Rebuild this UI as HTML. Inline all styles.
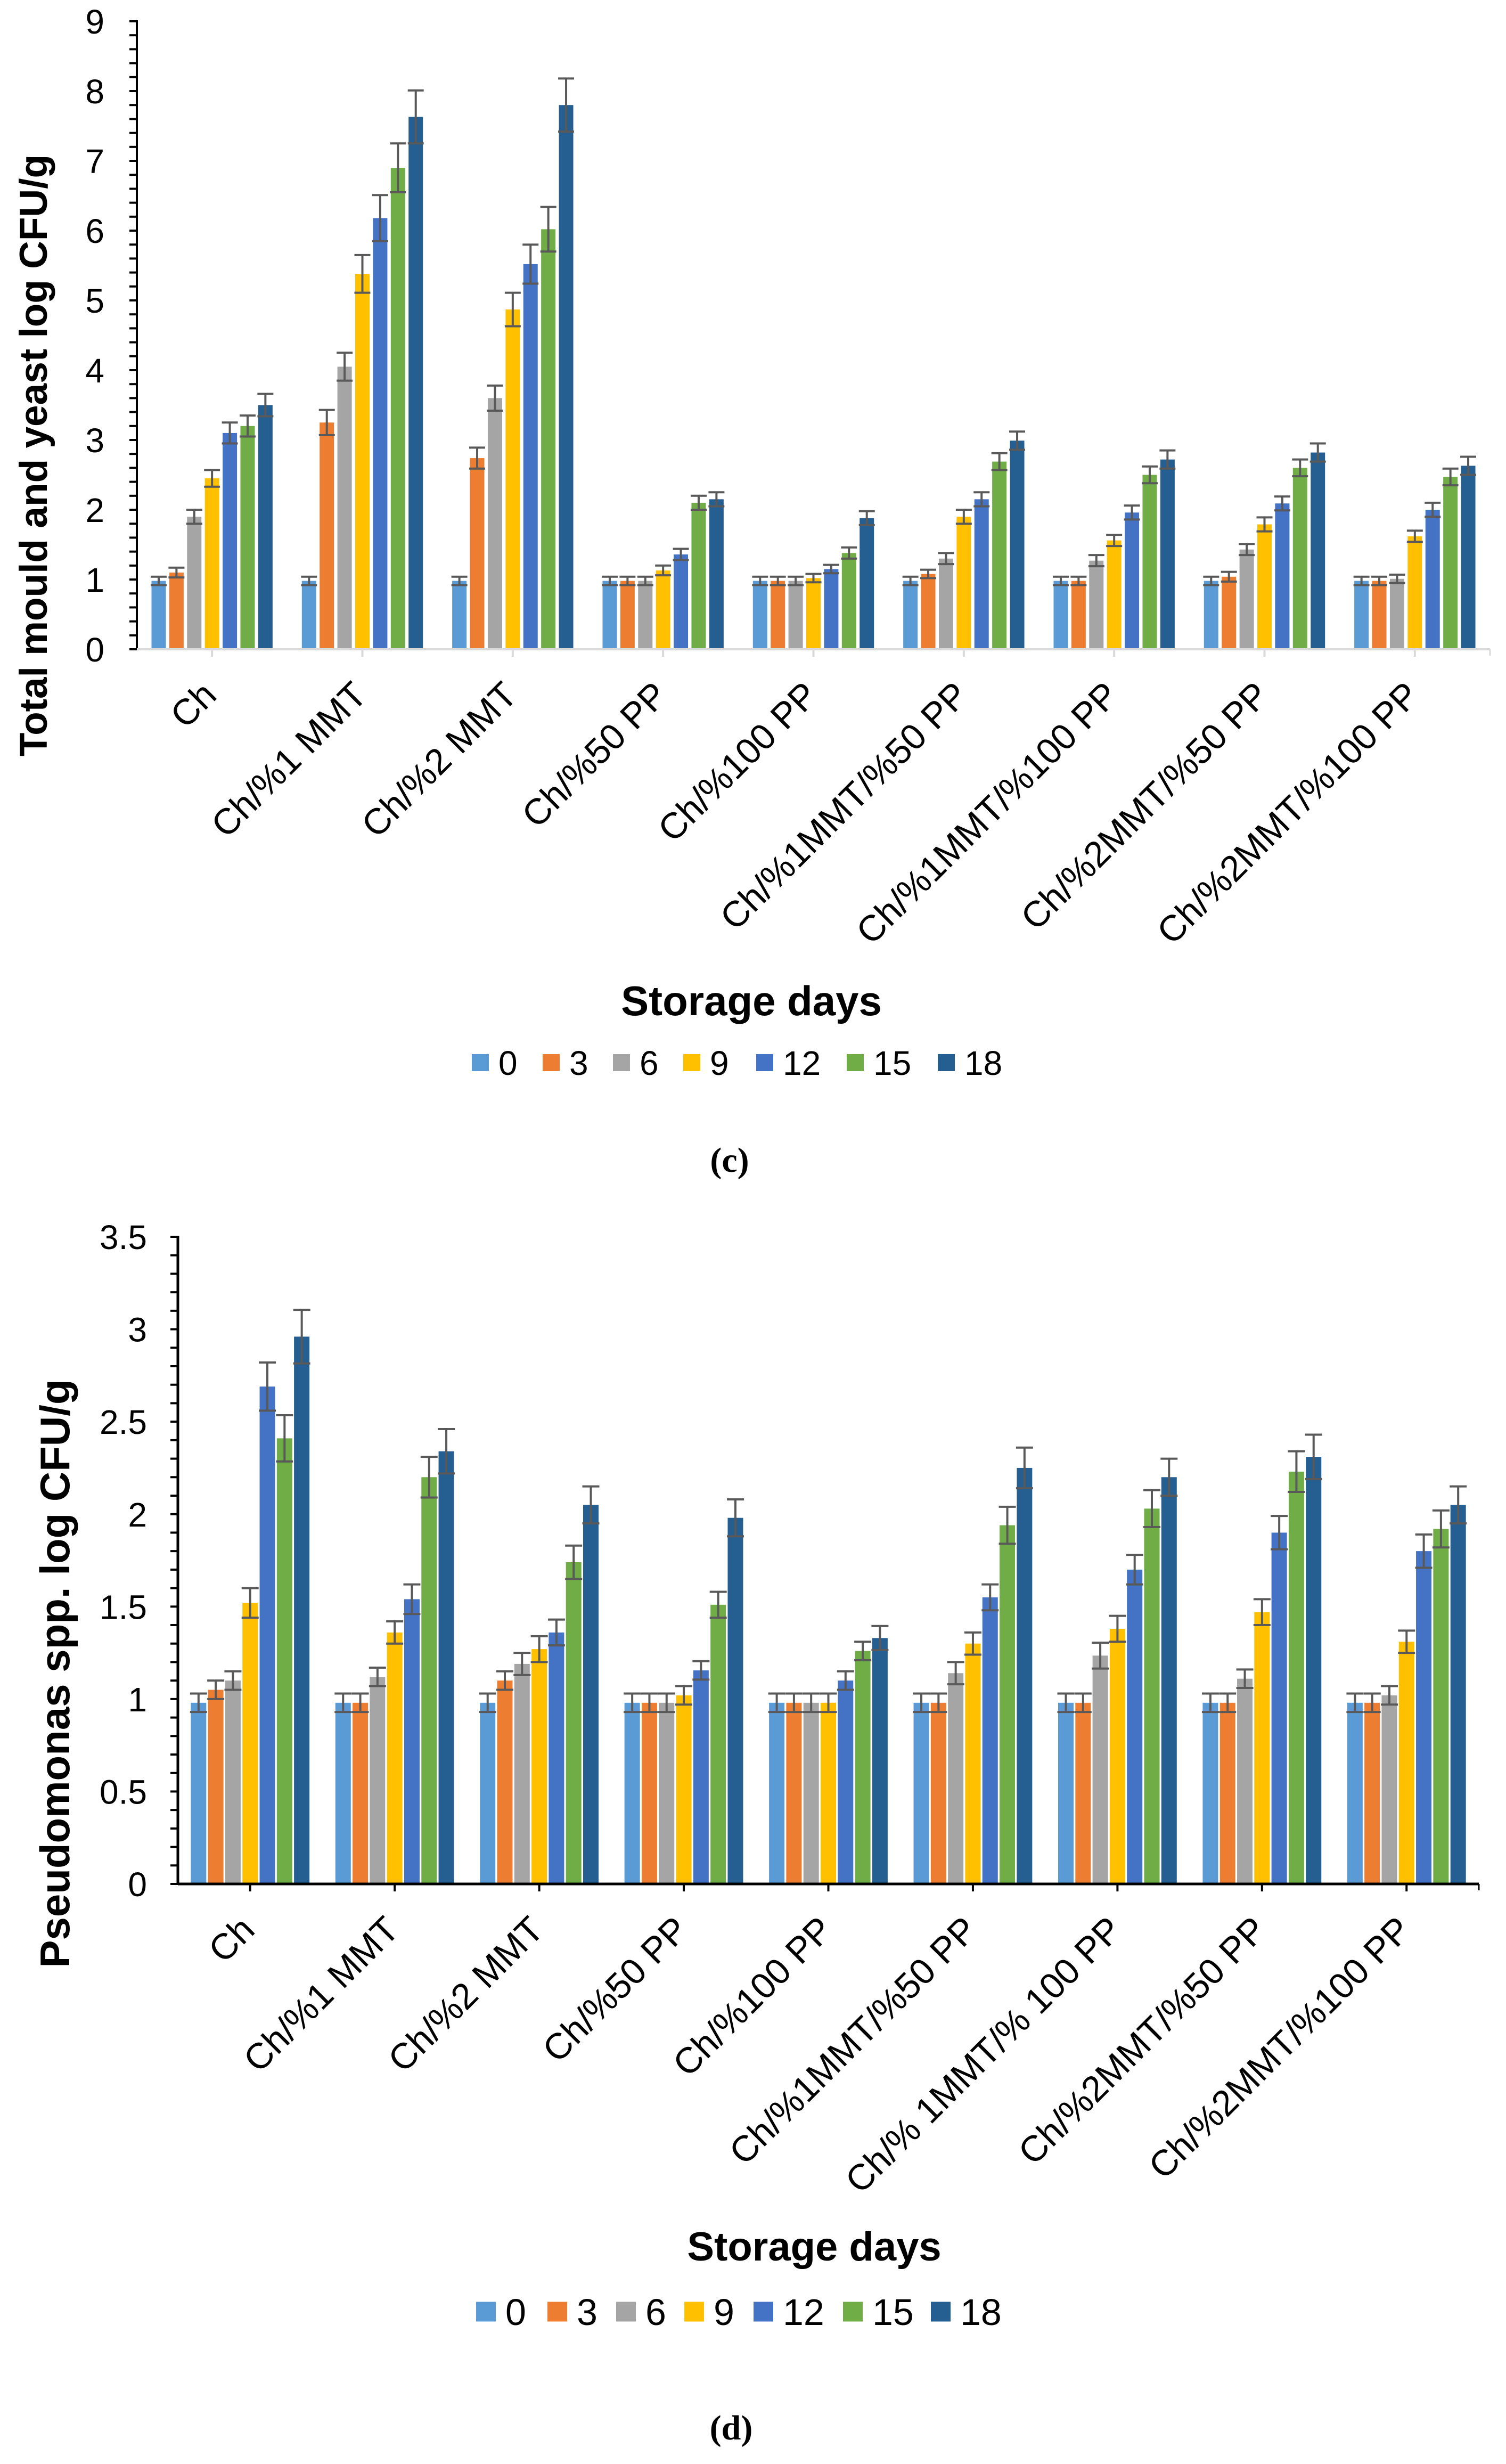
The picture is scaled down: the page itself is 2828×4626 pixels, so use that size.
<!DOCTYPE html>
<html><head><meta charset="utf-8"><style>
html,body{margin:0;padding:0;background:#fff;}
svg{display:block;font-family:"Liberation Sans",Arial,sans-serif;}
</style></head><body>
<svg id="fig" width="2828" height="4626" viewBox="0 0 2828 4626" xmlns="http://www.w3.org/2000/svg">
<rect width="2828" height="4626" fill="#fff"/>
</svg>
<script>
// ---- shared ----
const series = ['0','3','6','9','12','15','18'];
const colors = ['#5B9BD5','#ED7D31','#A5A5A5','#FFC000','#4472C4','#70AD47','#255E91'];

// ---- chart c data ----
const catsC = ['Ch','Ch/%1 MMT','Ch/%2 MMT','Ch/%50 PP','Ch/%100 PP','Ch/%1MMT/%50 PP','Ch/%1MMT/%100 PP','Ch/%2MMT/%50 PP','Ch/%2MMT/%100 PP'];
const valsC = [
 [0.98,1.1,1.9,2.45,3.1,3.2,3.5],
 [0.98,3.25,4.05,5.38,6.18,6.9,7.63],
 [0.98,2.74,3.6,4.87,5.52,6.02,7.8],
 [0.98,0.98,0.98,1.13,1.36,2.1,2.15],
 [0.98,0.98,0.98,1.02,1.15,1.38,1.88],
 [0.98,1.08,1.3,1.9,2.15,2.69,2.99],
 [0.98,0.98,1.27,1.56,1.96,2.5,2.72],
 [0.98,1.04,1.43,1.79,2.09,2.6,2.82],
 [0.98,0.98,1.01,1.62,2.0,2.47,2.63]
];
const errC = [
 [0.06,0.07,0.1,0.12,0.15,0.15,0.16],
 [0.06,0.18,0.2,0.27,0.33,0.35,0.38],
 [0.06,0.15,0.18,0.24,0.28,0.32,0.38],
 [0.06,0.06,0.06,0.07,0.08,0.1,0.1],
 [0.06,0.06,0.06,0.06,0.06,0.08,0.1],
 [0.06,0.06,0.08,0.1,0.1,0.12,0.13],
 [0.06,0.06,0.08,0.08,0.1,0.12,0.13],
 [0.06,0.07,0.08,0.1,0.1,0.12,0.13],
 [0.06,0.06,0.06,0.08,0.1,0.12,0.13]
];
const ticksC = ['0','1','2','3','4','5','6','7','8','9'];

// ---- chart d data ----
const catsD = ['Ch','Ch/%1 MMT','Ch/%2 MMT','Ch/%50 PP','Ch/%100 PP','Ch/%1MMT/%50 PP','Ch/% 1MMT/% 100 PP','Ch/%2MMT/%50 PP','Ch/%2MMT/%100 PP'];
const valsD = [
 [0.98,1.05,1.1,1.52,2.69,2.41,2.96],
 [0.98,0.98,1.12,1.36,1.54,2.2,2.34],
 [0.98,1.1,1.19,1.27,1.36,1.74,2.05],
 [0.98,0.98,0.98,1.02,1.155,1.51,1.98],
 [0.98,0.98,0.98,0.98,1.1,1.26,1.33],
 [0.98,0.98,1.14,1.3,1.55,1.94,2.25],
 [0.98,0.98,1.235,1.38,1.7,2.03,2.2],
 [0.98,0.98,1.11,1.47,1.9,2.23,2.31],
 [0.98,0.98,1.02,1.31,1.8,1.92,2.05]
];
const errD = [
 [0.05,0.05,0.05,0.08,0.13,0.125,0.145],
 [0.05,0.05,0.05,0.06,0.08,0.11,0.12],
 [0.05,0.05,0.06,0.07,0.07,0.09,0.1],
 [0.05,0.05,0.05,0.05,0.05,0.07,0.1],
 [0.05,0.05,0.05,0.05,0.05,0.05,0.065],
 [0.05,0.05,0.06,0.06,0.07,0.1,0.11],
 [0.05,0.05,0.07,0.07,0.08,0.1,0.1],
 [0.05,0.05,0.05,0.07,0.09,0.11,0.12],
 [0.05,0.05,0.05,0.06,0.09,0.1,0.1]
];
const ticksD = ['0','0.5','1','1.5','2','2.5','3','3.5'];

const NS='http://www.w3.org/2000/svg';
const svg=document.getElementById('fig');
function mk(tag,attrs,parent){const e=document.createElementNS(NS,tag);for(const k in attrs)e.setAttribute(k,attrs[k]);(parent||svg).appendChild(e);return e;}

function drawChart(cfg){
  const g=mk('g',{});
  
  
  const y=v=>cfg.y0-(v/cfg.ymax)*(cfg.y0-cfg.ytop);
  const cw=(cfg.xr-cfg.xl)/cfg.cats.length;
  const cx=i=>cfg.xl+cw*(i+0.5);
  cfg.vals.forEach((row,i)=>{
    row.forEach((v,j)=>{
      const bx=cx(i)+(j-3)*cfg.pitch-cfg.bw/2;
      const r=mk('rect',{x:bx,y:y(v),width:cfg.bw,height:cfg.y0-y(v),fill:colors[j]},g);
      
      
    });
  });
  cfg.vals.forEach((row,i)=>{
    row.forEach((v,j)=>{
      const mx=cx(i)+(j-3)*cfg.pitch;
      const e=cfg.err[i][j];
      const eg=mk('g',{stroke:'#595959','stroke-width':cfg.ew,fill:'none'},g);
      
      
      mk('line',{x1:mx,x2:mx,y1:y(v+e),y2:y(v-e)},eg);
      mk('line',{x1:mx-cfg.cap/2,x2:mx+cfg.cap/2,y1:y(v+e),y2:y(v+e)},eg);
      mk('line',{x1:mx-cfg.cap/2,x2:mx+cfg.cap/2,y1:y(v-e),y2:y(v-e)},eg);
    });
  });
  const ya=mk('g',{},g);
  
  
  mk('line',{x1:cfg.xl,x2:cfg.xl,y1:cfg.ytop-2,y2:cfg.y0+2,stroke:'#000','stroke-width':cfg.aw},ya);
  const nMinor=Math.round(cfg.ymax/cfg.minor);
  for(let k=0;k<=nMinor;k++){
    const yy=y(k*cfg.minor);
    mk('line',{x1:cfg.xl-14,x2:cfg.xl,y1:yy,y2:yy,stroke:'#000','stroke-width':4},ya);
  }
  cfg.ticks.forEach((t)=>{
    const tl=mk('text',{x:cfg.tickX,y:y(parseFloat(t))+cfg.tfs*0.36,'text-anchor':'end','font-size':cfg.tfs,fill:'#000'},ya);
    tl.textContent=t;
    
    
  });
  const xa=mk('g',{},g);
  
  
  mk('line',{x1:cfg.xl,x2:cfg.xr,y1:cfg.y0,y2:cfg.y0,stroke:cfg.xcol,'stroke-width':cfg.aw},xa);
  mk('line',{x1:cfg.xr,x2:cfg.xr,y1:cfg.y0,y2:cfg.y0+12,stroke:cfg.xcol,'stroke-width':3},xa);
  cfg.cats.forEach((c,i)=>{
    mk('line',{x1:cx(i),x2:cx(i),y1:cfg.y0,y2:cfg.y0+14,stroke:cfg.xcol,'stroke-width':4},xa);
    const ax=cx(i)+12, ay=cfg.y0+cfg.lblOff;
    const tl=mk('text',{x:ax,y:ay,'text-anchor':'end','font-size':cfg.cfs,fill:'#000',transform:'rotate(-45 '+ax+' '+ay+')'},xa);
    tl.textContent=c;
    
    
  });
  const yt=mk('text',{x:cfg.ytX,y:cfg.ytY,'text-anchor':'middle','font-size':cfg.ytfs,'font-weight':'bold',fill:'#000',transform:'rotate(-90 '+cfg.ytX+' '+cfg.ytY+')'},g);
  yt.textContent=cfg.ytitle;
  
  
  const xt=mk('text',{x:cfg.xtX,y:cfg.xtY,'text-anchor':'middle','font-size':cfg.xtfs,'font-weight':'bold',fill:'#000'},g);
  xt.textContent='Storage days';
  
  
  const lg=mk('g',{},g);
  
  
  series.forEach((s,j)=>{
    const eg=mk('g',{},lg);
    
    
    mk('rect',{x:cfg.legSq[j],y:cfg.legY-cfg.sq/2,width:cfg.sq,height:cfg.sq,fill:colors[j]},eg);
    const lt=mk('text',{x:cfg.legSq[j]+cfg.sq+18,y:cfg.legY+cfg.lfs*0.36,'font-size':cfg.lfs,fill:'#000'},eg);
    lt.textContent=s;
  });
  const pl=mk('text',{x:cfg.plX,y:cfg.plY,'text-anchor':'middle','font-size':66,'font-weight':'bold','font-family':'"Liberation Serif",serif',fill:'#000'},g);
  pl.textContent=cfg.panel;
  
  
}

drawChart({name:'chart-c-mould-yeast',cats:catsC,vals:valsC,err:errC,ticks:ticksC,
  xl:257,xr:2798,y0:1219,ytop:40,ymax:9,minor:0.2,pitch:33.4,bw:27,cap:30,ew:4,aw:4,xcol:'#D9D9D9',
  tickX:196,tfs:64,cfs:68,lblOff:90,
  ytitle:'Total mould and yeast log CFU/g',ytX:88,ytY:855,ytfs:73,
  xtX:1411,xtY:1906,xtfs:78,
  legSq:[886,1019,1151,1283,1420,1590,1761],legY:1995,sq:32,lfs:64,
  panel:'(c)',plX:1370,plY:2200});

drawChart({name:'chart-d-pseudomonas',cats:catsD,vals:valsD,err:errD,ticks:ticksD,
  xl:334,xr:2777,y0:3537,ytop:2322,ymax:3.5,minor:0.1,pitch:32.3,bw:29,cap:32,ew:4,aw:5,xcol:'#000',
  tickX:276,tfs:64,cfs:68,lblOff:90,
  ytitle:'Pseudomonas  spp. log CFU/g',ytX:130,ytY:3142,ytfs:78,
  xtX:1529,xtY:4244,xtfs:76,
  legSq:[894,1028,1157,1285,1415,1583,1748],legY:4340,sq:37,lfs:70,
  panel:'(d)',plX:1373,plY:4580});
</script>
</body></html>
